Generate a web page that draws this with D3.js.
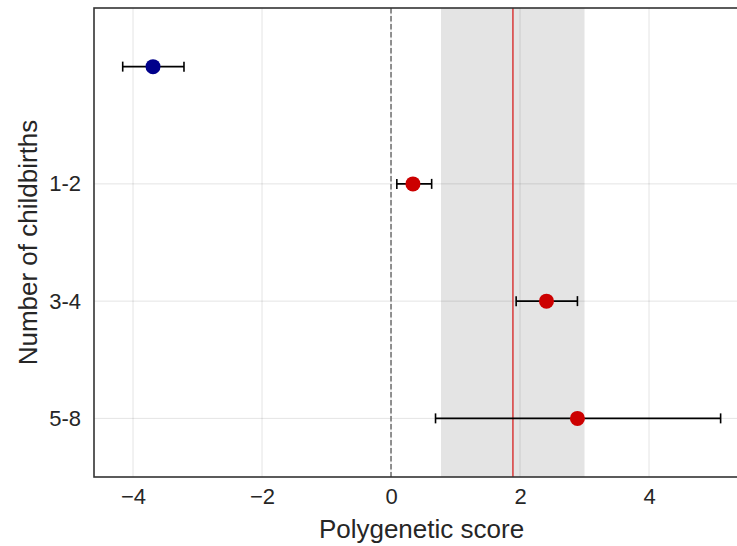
<!DOCTYPE html>
<html><head><meta charset="utf-8">
<script src="https://cdn.jsdelivr.net/npm/d3@7"></script>
<style>html,body{margin:0;padding:0;overflow:hidden;background:#fff;}</style>
</head><body>
<script>
const categories = ["0", "1-2", "3-4", "5-8"];
const tickCategories = ["1-2", "3-4", "5-8"];
const means = [-3.69, 0.34, 2.41, 2.89];
const lower = [-4.16, 0.09, 1.94, 0.69];
const upper = [-3.21, 0.63, 2.89, 5.11];
const pointColors = ["#00008b", "#cc0000", "#cc0000", "#cc0000"];
const xTicks = [-4, -2, 0, 2, 4];
const bandRange = [0.775, 3.0];
const refLine = 1.89;
const zeroLine = 0;

const W = 760, H = 546;
const m = {left: 94, top: 8, right: W - 749, bottom: H - 477};
const svg = d3.select("body").append("svg").attr("width", W).attr("height", H)
  .style("font-family", "'Liberation Sans', Arial, sans-serif");

const x = d3.scaleLinear().domain([-4.605, 5.55]).range([m.left, W - m.right]);
const y = d3.scalePoint().domain(categories).range([m.top, H - m.bottom]).padding(0.5);

const g = svg.append("g");
g.append("rect").attr("x", x(bandRange[0])).attr("width", x(bandRange[1]) - x(bandRange[0]))
  .attr("y", m.top).attr("height", H - m.bottom - m.top).attr("fill", "#e4e4e4");
g.selectAll(".vg").data(xTicks).join("line")
  .attr("x1", d => x(d)).attr("x2", d => x(d)).attr("y1", m.top).attr("y2", H - m.bottom)
  .attr("stroke", "rgba(0,0,0,0.11)").attr("stroke-width", 1);
g.selectAll(".hg").data(tickCategories).join("line")
  .attr("y1", d => y(d)).attr("y2", d => y(d)).attr("x1", m.left).attr("x2", W - m.right)
  .attr("stroke", "rgba(0,0,0,0.11)").attr("stroke-width", 1);
g.append("line").attr("x1", x(zeroLine)).attr("x2", x(zeroLine)).attr("y1", m.top).attr("y2", H - m.bottom)
  .attr("stroke", "#777").attr("stroke-width", 1.6).attr("stroke-dasharray", "5.5,2.5");
g.append("line").attr("x1", x(refLine)).attr("x2", x(refLine)).attr("y1", m.top).attr("y2", H - m.bottom)
  .attr("stroke", "#d93a3a").attr("stroke-width", 1.5);

const data = categories.map((c, i) => ({c, m: means[i], lo: lower[i], hi: upper[i], col: pointColors[i]}));
const eb = g.selectAll(".eb").data(data).join("g");
eb.append("line").attr("x1", d => x(d.lo)).attr("x2", d => x(d.hi)).attr("y1", d => y(d.c)).attr("y2", d => y(d.c))
  .attr("stroke", "#000").attr("stroke-width", 1.6);
eb.append("line").attr("x1", d => x(d.lo)).attr("x2", d => x(d.lo)).attr("y1", d => y(d.c) - 5).attr("y2", d => y(d.c) + 5)
  .attr("stroke", "#000").attr("stroke-width", 1.6);
eb.append("line").attr("x1", d => x(d.hi)).attr("x2", d => x(d.hi)).attr("y1", d => y(d.c) - 5).attr("y2", d => y(d.c) + 5)
  .attr("stroke", "#000").attr("stroke-width", 1.6);
eb.append("circle").attr("cx", d => x(d.m)).attr("cy", d => y(d.c)).attr("r", 7.5).attr("fill", d => d.col);

g.append("rect").attr("x", m.left).attr("y", m.top).attr("width", W - m.right - m.left).attr("height", H - m.bottom - m.top)
  .attr("fill", "none").attr("stroke", "#333").attr("stroke-width", 1.6);

const xa = svg.append("g").attr("transform", `translate(0,${H - m.bottom})`)
  .call(d3.axisBottom(x).tickValues(xTicks).tickSize(0).tickPadding(11).tickFormat(d => d < 0 ? "\u2212" + Math.abs(d) : d));
xa.select(".domain").remove();
xa.selectAll("text").attr("font-size", 22).attr("fill", "#262626").style("font-family", "'Liberation Sans', Arial, sans-serif");

const ya = svg.append("g").attr("transform", `translate(${m.left},0)`)
  .call(d3.axisLeft(y).tickValues(tickCategories).tickSize(0).tickPadding(13));
ya.select(".domain").remove();
ya.selectAll("text").attr("font-size", 22).attr("fill", "#262626").style("font-family", "'Liberation Sans', Arial, sans-serif");

svg.append("text").attr("x", (m.left + W - m.right) / 2).attr("y", 538).attr("text-anchor", "middle")
  .attr("font-size", 26).attr("fill", "#262626").text("Polygenetic score");
svg.append("text").attr("transform", `translate(37,${(m.top + H - m.bottom) / 2}) rotate(-90)`).attr("text-anchor", "middle")
  .attr("font-size", 26).attr("fill", "#262626").text("Number of childbirths");
</script>
</body></html>
